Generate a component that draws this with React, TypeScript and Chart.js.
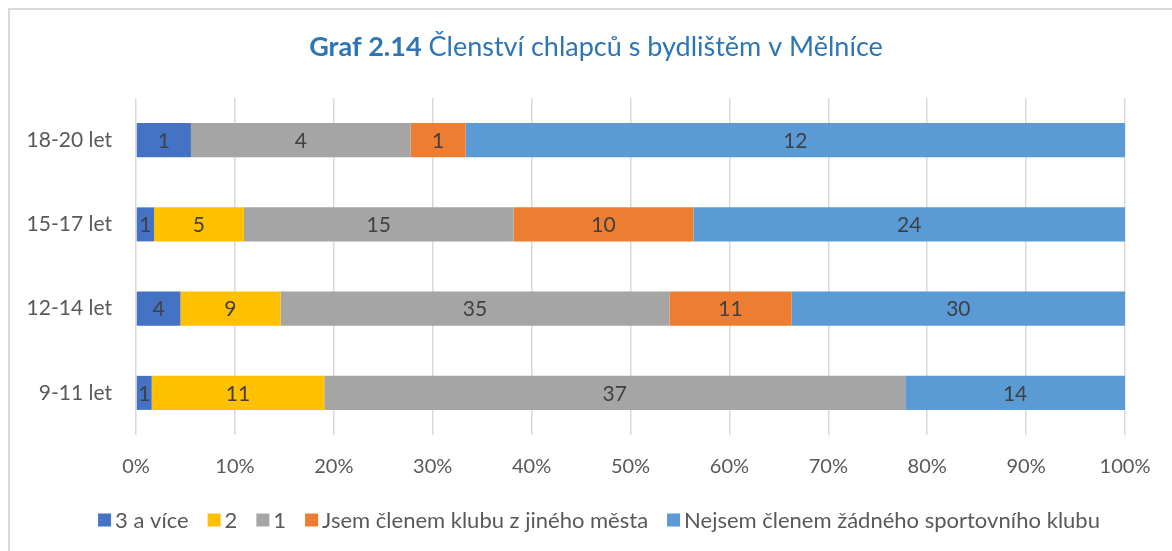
import React, { useEffect, useRef } from 'react';
import { Chart, registerables } from 'chart.js';

Chart.register(...registerables);

const categories = ['18-20 let', '15-17 let', '12-14 let', '9-11 let'];
const seriesNames = [
  '3 a více',
  '2',
  '1',
  'Jsem členem klubu z jiného města',
  'Nejsem členem žádného sportovního klubu',
];
const values3aVice = [1, 1, 4, 1];
const values2 = [0, 5, 9, 11];
const values1 = [4, 15, 35, 37];
const valuesJinyKlub = [1, 10, 11, 0];
const valuesNejsem = [12, 24, 30, 14];
const seriesColors = ['#4472C4', '#FFC000', '#A5A5A5', '#ED7D31', '#5B9BD5'];
const titleBold = 'Graf 2.14';
const titleRest = ' Členství chlapců s bydlištěm v Mělníce';

const FONT = 'Lato, "Open Sans", sans-serif';
const TEXT_COLOR = '#595959';

const allSeries = [values3aVice, values2, values1, valuesJinyKlub, valuesNejsem];
const totals = categories.map((_, i) => allSeries.reduce((s, arr) => s + arr[i], 0));

export default function App() {
  const canvasRef = useRef<HTMLCanvasElement | null>(null);

  useEffect(() => {
    document.body.style.margin = '0';
    const canvas = canvasRef.current;
    if (!canvas) return;

    const framePlugin = {
      id: 'frame',
      beforeDraw(chart: any) {
        const ctx = chart.ctx;
        ctx.save();
        ctx.fillStyle = '#ffffff';
        ctx.fillRect(0, 0, chart.width, chart.height);
        ctx.strokeStyle = '#d9d9d9';
        ctx.lineWidth = 2;
        ctx.strokeRect(9, 9, chart.width + 20, chart.height + 20);
        ctx.restore();
      },
    };

    const labelsPlugin = {
      id: 'segLabels',
      afterDatasetsDraw(chart: any) {
        const ctx = chart.ctx;
        ctx.save();
        ctx.font = `21px ${FONT}`;
        ctx.fillStyle = '#404040';
        ctx.textAlign = 'center';
        ctx.textBaseline = 'middle';
        chart.data.datasets.forEach((ds: any, di: number) => {
          const meta = chart.getDatasetMeta(di);
          meta.data.forEach((el: any, i: number) => {
            const count = allSeries[di][i];
            if (!count) return;
            const cx = (el.x + el.base) / 2;
            ctx.fillText(String(count), cx, el.y + 1);
          });
        });
        ctx.restore();
      },
    };

    const titleLegendPlugin = {
      id: 'titleLegend',
      afterDraw(chart: any) {
        const ctx = chart.ctx;
        ctx.save();
        // Title
        ctx.textBaseline = 'middle';
        ctx.fillStyle = '#2E75B6';
        ctx.font = `bold 27px ${FONT}`;
        const wb = ctx.measureText(titleBold).width;
        ctx.font = `27px ${FONT}`;
        const wr = ctx.measureText(titleRest).width;
        const tx = 596 - (wb + wr) / 2;
        ctx.textAlign = 'left';
        ctx.font = `bold 27px ${FONT}`;
        ctx.fillText(titleBold, tx, 47);
        ctx.font = `27px ${FONT}`;
        ctx.fillText(titleRest, tx + wb, 47);

        // Legend
        ctx.font = `22px ${FONT}`;
        const box = 13;
        const gapBoxText = 4;
        const gapItems = 19;
        const widths = seriesNames.map((n) => ctx.measureText(n).width);
        const total =
          widths.reduce((s, w) => s + w + box + gapBoxText, 0) + gapItems * (seriesNames.length - 1);
        let x = 599 - total / 2;
        const y = 520;
        seriesNames.forEach((n, i) => {
          ctx.fillStyle = seriesColors[i];
          ctx.fillRect(x, y - box / 2, box, box);
          x += box + gapBoxText;
          ctx.fillStyle = TEXT_COLOR;
          ctx.fillText(n, x, y + 1);
          x += widths[i] + gapItems;
        });
        ctx.restore();
      },
    };

    const chart = new Chart(canvas, {
      type: 'bar',
      data: {
        labels: categories,
        datasets: seriesNames.map((name, di) => ({
          label: name,
          data: allSeries[di].map((v, i) => (v / totals[i]) * 100),
          backgroundColor: seriesColors[di],
          borderWidth: 0,
          barPercentage: 0.404,
          categoryPercentage: 1,
        })),
      },
      options: {
        indexAxis: 'y',
        responsive: false,
        animation: false,
        devicePixelRatio: 1,
        layout: { padding: { top: 98, right: 47, left: 0, bottom: 0 } },
        plugins: {
          legend: { display: false },
          title: { display: false },
          tooltip: { enabled: false },
        },
        scales: {
          x: {
            type: 'linear',
            stacked: true,
            min: 0,
            max: 100,
            position: 'bottom',
            grid: { color: '#d9d9d9', lineWidth: 1.5, drawTicks: false },
            border: { display: false },
            ticks: {
              stepSize: 10,
              callback: (v: any) => `${v}%`,
              font: { family: FONT, size: 20 },
              color: TEXT_COLOR,
              padding: 20,
              maxRotation: 0,
            },
            afterFit: (s: any) => {
              s.height = 116;
            },
          },
          y: {
            stacked: true,
            grid: { display: false },
            border: { display: false },
            ticks: {
              font: { family: FONT, size: 21 },
              color: TEXT_COLOR,
              padding: 16,
            },
            afterFit: (s: any) => {
              s.width = 136;
            },
          },
        },
      },
      plugins: [framePlugin, labelsPlugin, titleLegendPlugin],
    } as any);

    return () => chart.destroy();
  }, []);

  return (
    <div style={{ width: 1172, height: 551, overflow: 'hidden' }}>
      <canvas ref={canvasRef} width={1172} height={551} style={{ display: 'block' }} />
    </div>
  );
}
